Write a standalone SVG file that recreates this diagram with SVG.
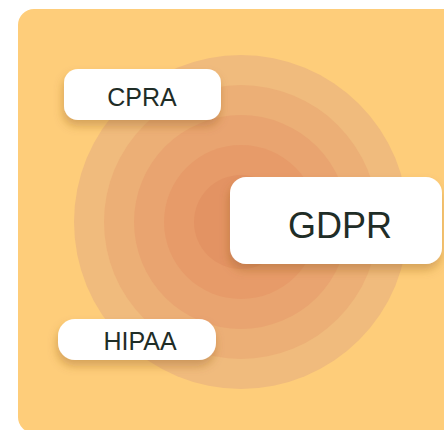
<svg xmlns="http://www.w3.org/2000/svg" width="444" height="430" viewBox="0 0 444 430">
  <defs>
    <filter id="shadow" x="-30%" y="-40%" width="160%" height="200%">
      <feDropShadow dx="-1" dy="6" stdDeviation="5" flood-color="#8a5518" flood-opacity="0.35"/>
    </filter>
    <style>
      .box { fill: #ffffff; filter: url(#shadow); }
      .lbl { font-family: "Liberation Sans", Arial, sans-serif; fill: #1f2d27; text-anchor: middle; }
    </style>
  </defs>
  <rect x="0" y="0" width="444" height="430" fill="#ffffff"/>
  <rect id="panel" x="18" y="9" width="450" height="424" rx="16" fill="#fecd7a"/>
  <g id="rings">
    <circle cx="241" cy="222" r="167" fill="#f0bb7d"/>
    <circle cx="241" cy="222" r="137" fill="#ecaf76"/>
    <circle cx="241" cy="222" r="107" fill="#e9a470"/>
    <circle cx="241" cy="222" r="77" fill="#e79b69"/>
    <circle cx="241" cy="222" r="47" fill="#e39363"/>
  </g>
  <g id="connectors"></g>
  <g id="cpra">
    <rect class="box" x="64" y="69" width="157" height="51" rx="14"/>
    <text class="lbl" x="142" y="106" font-size="25">CPRA</text>
  </g>
  <g id="gdpr">
    <rect class="box" x="230" y="177" width="212" height="87" rx="16"/>
    <text class="lbl" x="340" y="238" font-size="36">GDPR</text>
  </g>
  <g id="hipaa">
    <rect class="box" x="58" y="319" width="158" height="41" rx="17"/>
    <text class="lbl" x="140" y="350" font-size="25">HIPAA</text>
  </g>
</svg>
